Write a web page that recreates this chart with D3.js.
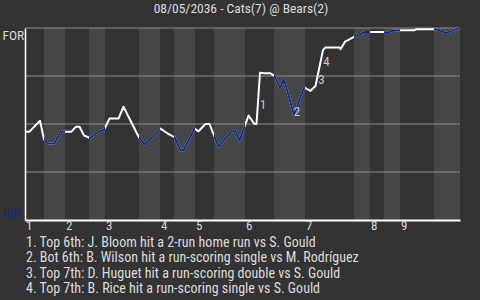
<!DOCTYPE html>
<html>
<head>
<meta charset="utf-8">
<script src="https://cdn.jsdelivr.net/npm/d3@7"></script>
<style>
  html, body { margin: 0; padding: 0; background: #333333; }
  svg { display: block; }
  text { font-family: "Roboto Condensed", "Liberation Sans Narrow", "DejaVu Sans Condensed", Roboto, sans-serif; }
</style>
</head>
<body>
<div id="chart"></div>
<script>
// ── Data ────────────────────────────────────────────────────────────────
const TITLE = '08/05/2036 - Cats(7) @ Bears(2)';
const AWAY_LABEL = 'FOR';
const HOME_LABEL = 'BIR';

// game progress (plate-appearance units) where each half-inning starts, last = end
const halfInningStarts = [0, 3.8, 8, 12.8, 16, 22.8, 27, 29.8, 34, 37.8, 44, 49.8, 56, 65.8, 69, 71.8, 75, 81.8, 87];
const inningLabels = ['1', '2', '3', '4', '5', '6', '7', '8', '9'];

// away-team win probability (%) after each event
const progress = [0, 0.9, 3.0, 3.8, 4.6, 5.9, 7.1, 7.9, 9.3, 10.2, 10.9, 11.8, 13.0, 14.1, 15.1, 15.7,
  16.9, 18.7, 19.7, 22.8, 23.9, 27.1, 28.4, 29.9, 31.1, 31.7, 33.9, 34.7, 36.1, 36.9, 38.7, 41.3,
  42.1, 42.9, 44.7, 45.9, 46.3, 47.0, 47.9, 49.1, 49.9, 51.0, 51.8, 53.8, 55.8, 57.1, 58.1, 59.6,
  60.1, 62.9, 63.1, 64.0, 64.7, 65.9, 67.0, 68.0, 71.8, 72.3, 73.3, 75.0, 77.8, 78.2, 81.8, 83.0,
  84.2, 85.0, 87.0];
const winProb = [46.0, 46.0, 51.7, 41.9, 39.9, 39.9, 46.0, 46.0, 46.0, 48.6, 48.6, 44.0, 42.7, 44.8, 46.5, 46.5,
  52.8, 52.8, 59.0, 43.0, 39.2, 47.6, 45.3, 43.1, 36.3, 36.3, 47.6, 46.2, 50.0, 50.0, 38.2, 46.2,
  46.2, 41.3, 54.4, 50.0, 50.0, 76.7, 76.4, 76.4, 75.0, 69.1, 73.3, 54.7, 69.1, 67.3, 69.8, 88.5,
  89.9, 89.9, 88.9, 92.9, 93.8, 95.5, 96.9, 97.9, 97.9, 97.2, 98.4, 98.8, 98.8, 99.3, 99.3, 98.8,
  97.4, 98.1, 100];

// key plays: marker position (progress, win %) and description
const keyPlayX = [47.6, 54.4, 59.3, 60.3];
const keyPlayY = [59.9, 56.3, 73.4, 82.8];
const keyPlayText = [
  'Top 6th: J. Bloom hit a 2-run home run vs S. Gould',
  'Bot 6th: B. Wilson hit a run-scoring single vs M. Rodríguez',
  'Top 7th: D. Huguet hit a run-scoring double vs S. Gould',
  'Top 7th: B. Rice hit a run-scoring single vs S. Gould'
];

const gridValues = [25, 50, 75, 100];

// ── Layout ──────────────────────────────────────────────────────────────
const W = 480, H = 300;
const margin = { top: 28, right: 20, bottom: 80, left: 25 };
const width  = W - margin.left - margin.right;
const height = H - margin.top - margin.bottom;

const HOME_BLUE = '#0c2a88';

const svg = d3.select('#chart')
  .append('svg')
  .attr('width', W)
  .attr('height', H);

svg.append('text')
  .attr('x', W / 2 + 1)
  .attr('y', 12.5)
  .attr('text-anchor', 'middle')
  .attr('fill', '#dcdcdc')
  .style('font-size', '13.5px')
  .text(TITLE);

const g = svg.append('g')
  .attr('transform', `translate(${margin.left},${margin.top})`);

const x = d3.scaleLinear()
  .domain([0, d3.max(halfInningStarts)])
  .range([0, width]);

const y = d3.scaleLinear()
  .domain([0, 100])
  .range([height, 0]);

// half-inning bands: top halves darker, bottom halves lighter
const halves = d3.pairs(halfInningStarts).map((p, i) => ({ x0: p[0], x1: p[1], bottom: i % 2 === 1 }));

g.selectAll('.band')
  .data(halves)
  .enter()
  .append('rect')
  .attr('class', 'band')
  .attr('x', d => x(d.x0))
  .attr('width', d => x(d.x1) - x(d.x0))
  .attr('y', 0)
  .attr('height', height)
  .attr('fill', d => d.bottom ? '#464646' : '#333333');

// grid lines
g.selectAll('.grid')
  .data(gridValues)
  .enter()
  .append('line')
  .attr('class', 'grid')
  .attr('x1', 0)
  .attr('x2', width)
  .attr('y1', d => y(d))
  .attr('y2', d => y(d))
  .attr('stroke', '#8c8c8c')
  .attr('stroke-width', 1);

// clip to bottom halves for the home-team colour
const clip = svg.append('defs').append('clipPath').attr('id', 'home-clip');
clip.selectAll('rect')
  .data(halves.filter(d => d.bottom))
  .enter()
  .append('rect')
  .attr('x', d => x(d.x0))
  .attr('width', d => x(d.x1) - x(d.x0))
  .attr('y', -5)
  .attr('height', height + 10);

const points = progress.map((p, i) => [p, winProb[i]]);
const line = d3.line()
  .x(d => x(d[0]))
  .y(d => y(d[1]));

g.append('path')
  .datum(points)
  .attr('fill', 'none')
  .attr('stroke', '#ffffff')
  .attr('stroke-width', 2)
  .attr('stroke-linejoin', 'round')
  .attr('d', line);

g.append('path')
  .datum(points)
  .attr('clip-path', 'url(#home-clip)')
  .attr('fill', 'none')
  .attr('stroke', HOME_BLUE)
  .attr('stroke-width', 2)
  .attr('stroke-linejoin', 'round')
  .attr('d', line);

// key play markers
g.selectAll('.key-num')
  .data(keyPlayX)
  .enter()
  .append('text')
  .attr('class', 'key-num')
  .attr('x', (d, i) => x(d))
  .attr('y', (d, i) => y(keyPlayY[i]))
  .attr('text-anchor', 'middle')
  .attr('dominant-baseline', 'central')
  .attr('fill', '#c8c8c8')
  .style('font-size', '13px')
  .text((d, i) => i + 1);

// axes
const xAxis = g.append('g')
  .attr('transform', `translate(0,${height})`)
  .call(d3.axisBottom(x)
    .tickValues(halfInningStarts.filter((d, i) => i % 2 === 0).slice(0, inningLabels.length))
    .tickFormat((d, i) => inningLabels[i])
    .tickSize(0)
    .tickPadding(1));
xAxis.select('.domain').attr('stroke', '#ffffff').attr('stroke-width', 2);
xAxis.selectAll('text')
  .attr('text-anchor', 'start')
  .attr('dx', 0.5)
  .attr('fill', '#d8d8d8')
  .style('font-size', '13px');

const yAxis = g.append('g')
  .call(d3.axisLeft(y)
    .tickValues([100, 0])
    .tickFormat(d => d === 100 ? AWAY_LABEL : HOME_LABEL)
    .tickSize(0)
    .tickPadding(0));
yAxis.select('.domain').attr('stroke', '#ffffff').attr('stroke-width', 1.5);
yAxis.selectAll('text')
  .attr('text-anchor', 'start')
  .attr('x', 2.5 - margin.left)
  .attr('dy', d => d === 100 ? '11px' : '-2.7px')
  .attr('fill', d => d === 100 ? '#d8d8d8' : HOME_BLUE)
  .style('font-size', '13.5px');

// key play list
svg.selectAll('.key-line')
  .data(keyPlayText)
  .enter()
  .append('text')
  .attr('class', 'key-line')
  .attr('x', 26)
  .attr('y', (d, i) => 246.5 + i * 15.6)
  .attr('fill', '#dcdcdc')
  .style('font-size', '14px')
  .text((d, i) => `${i + 1}. ${d}`);
</script>
</body>
</html>
